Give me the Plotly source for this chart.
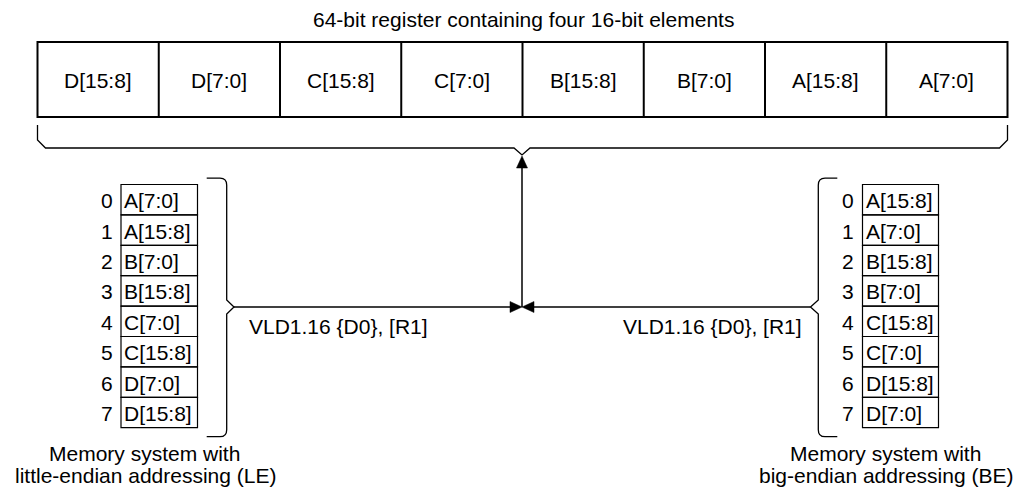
import plotly.graph_objects as go

# ---- data ----
title_text = "64-bit register containing four 16-bit elements"
register_labels = ["D[15:8]", "D[7:0]", "C[15:8]", "C[7:0]",
                   "B[15:8]", "B[7:0]", "A[15:8]", "A[7:0]"]
addresses = ["0", "1", "2", "3", "4", "5", "6", "7"]
le_labels = ["A[7:0]", "A[15:8]", "B[7:0]", "B[15:8]",
             "C[7:0]", "C[15:8]", "D[7:0]", "D[15:8]"]
be_labels = ["A[15:8]", "A[7:0]", "B[15:8]", "B[7:0]",
             "C[15:8]", "C[7:0]", "D[15:8]", "D[7:0]"]
instruction = "VLD1.16 {D0}, [R1]"
le_caption = ["Memory system with", "little-endian addressing (LE)"]
be_caption = ["Memory system with", "big-endian addressing (BE)"]

# ---- layout constants (pixel space) ----
W, H = 1028, 491
FONT = "Liberation Sans, Arial, sans-serif"
FS = 21

reg_x0, reg_x1, reg_y0, reg_y1 = 37.5, 1007.5, 42, 117
cell_w = (reg_x1 - reg_x0) / len(register_labels)

mem_y0, row_h = 184.5, 30.4
le_x0, le_x1 = 121, 197.5
be_x0, be_x1 = 862.5, 938.5
le_addr_x, be_addr_x = 107, 848

mid_x = 522
link_y = 307
apex_y = 155

shapes = []
annotations = []

def line(x0, y0, x1, y1, w=1.3):
    shapes.append(dict(type="line", xref="x", yref="y", x0=x0, y0=y0, x1=x1, y1=y1,
                       line=dict(color="black", width=w)))

def path(d, w=1.3, fill=None):
    s = dict(type="path", xref="x", yref="y", path=d,
             line=dict(color="black", width=w))
    if fill:
        s["fillcolor"] = fill
    shapes.append(s)

def text(x, y, t, xanchor="center", size=FS):
    annotations.append(dict(x=x, y=y, xref="x", yref="y", text=t, showarrow=False,
                            xanchor=xanchor, yanchor="middle",
                            font=dict(family=FONT, size=size, color="black")))

# title
text((reg_x0 + reg_x1) / 2 + 0.5, 19, title_text)

# register
shapes.append(dict(type="rect", xref="x", yref="y", x0=reg_x0, y0=reg_y0, x1=reg_x1, y1=reg_y1,
                   line=dict(color="black", width=2)))
for i, lab in enumerate(register_labels):
    if i > 0:
        line(reg_x0 + i * cell_w, reg_y0, reg_x0 + i * cell_w, reg_y1, w=2)
    text(reg_x0 + (i + 0.5) * cell_w, (reg_y0 + reg_y1) / 2 + 1, lab)

# register brace
path(f"M {reg_x0},125 L {reg_x0},140 L {reg_x0+8},148 L {mid_x-8},148 L {mid_x},{apex_y} "
     f"L {mid_x+8},148 L {reg_x1-8},148 L {reg_x1},140 L {reg_x1},125")

# memory columns
for i in range(len(addresses)):
    y0 = mem_y0 + i * row_h
    y1 = y0 + row_h
    yc = (y0 + y1) / 2
    shapes.append(dict(type="rect", xref="x", yref="y", x0=le_x0, y0=y0, x1=le_x1, y1=y1,
                       line=dict(color="black", width=1.2)))
    shapes.append(dict(type="rect", xref="x", yref="y", x0=be_x0, y0=y0, x1=be_x1, y1=y1,
                       line=dict(color="black", width=1.2)))
    text(le_addr_x, yc + 1, addresses[i])
    text(be_addr_x, yc + 1, addresses[i])
    text(le_x0 + 1, yc + 1, le_labels[i], xanchor="left")
    text(be_x0 + 1, yc + 1, be_labels[i], xanchor="left")

mem_top = mem_y0 - 6.3
mem_bot = mem_y0 + len(addresses) * row_h + 9

# LE brace (opens left, points right)
bx, tip = 226.7, 234
path(f"M 206.7,{mem_top} L 220,{mem_top} Q {bx},{mem_top} {bx},{mem_top+7} "
     f"L {bx},{link_y-7} L {tip},{link_y} L {bx},{link_y+7} L {bx},{mem_bot-7} "
     f"Q {bx},{mem_bot} 220,{mem_bot} L 206.7,{mem_bot}")
# BE brace (opens right, points left)
bx2, tip2 = 818.3, 810.5
path(f"M 837.3,{mem_top} L 825,{mem_top} Q {bx2},{mem_top} {bx2},{mem_top+7} "
     f"L {bx2},{link_y-7} L {tip2},{link_y} L {bx2},{link_y+7} L {bx2},{mem_bot-7} "
     f"Q {bx2},{mem_bot} 825,{mem_bot} L 837.3,{mem_bot}")

# connecting lines and arrowheads
ah = 12
line(tip, link_y, mid_x - ah, link_y, w=1.5)
line(tip2, link_y, mid_x + ah, link_y, w=1.5)
line(mid_x, link_y, mid_x, apex_y + ah, w=1.5)
path(f"M {mid_x},{link_y} L {mid_x-ah},{link_y-5.5} L {mid_x-ah},{link_y+5.5} Z", w=0.5, fill="black")
path(f"M {mid_x},{link_y} L {mid_x+ah},{link_y-5.5} L {mid_x+ah},{link_y+5.5} Z", w=0.5, fill="black")
path(f"M {mid_x},{apex_y+1} L {mid_x-5.5},{apex_y+ah+1} L {mid_x+5.5},{apex_y+ah+1} Z", w=0.5, fill="black")

# instruction labels
text(338, 326, instruction)
text(712, 326, instruction)

# captions
text(144.5, 453, le_caption[0])
text(145, 475, le_caption[1])
text(885.5, 453, be_caption[0])
text(885.5, 475, be_caption[1])

fig = go.Figure()
fig.add_trace(go.Scatter(x=[0, W], y=[0, H], mode="markers",
                         marker=dict(opacity=0), hoverinfo="skip", showlegend=False))
fig.update_layout(
    width=W, height=H,
    margin=dict(l=0, r=0, t=0, b=0),
    paper_bgcolor="white", plot_bgcolor="white",
    xaxis=dict(range=[0, W], visible=False, fixedrange=True),
    yaxis=dict(range=[H, 0], visible=False, fixedrange=True),
    shapes=shapes, annotations=annotations, showlegend=False,
)
fig.write_html("out.html", config={"displayModeBar": False},
               post_script="document.body.style.margin='0';document.body.style.overflow='hidden';")
